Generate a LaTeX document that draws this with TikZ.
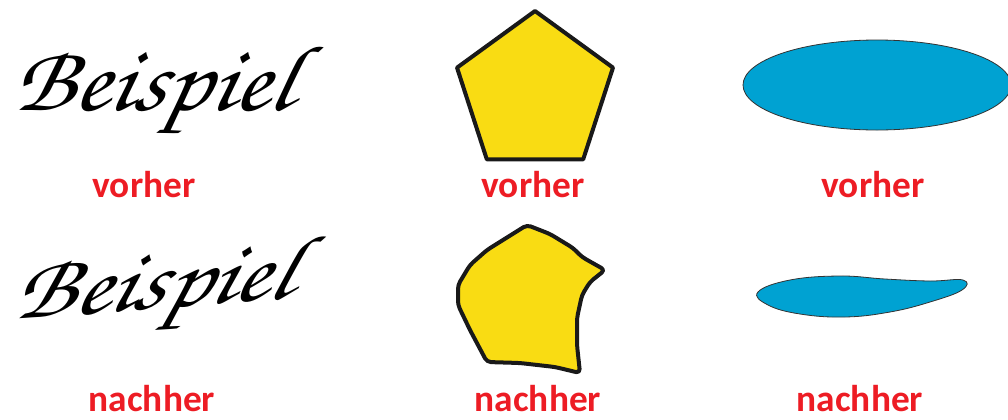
\documentclass[tikz,border=0pt]{standalone}
\usepackage{fontspec}
\setmainfont{Carlito}
\newfontfamily\chorus{texgyrechorus-mediumitalic.otf}
\usetikzlibrary{shapes.geometric, positioning}
\definecolor{lblred}{RGB}{237,28,36}
\definecolor{penyellow}{RGB}{249,220,19}
\definecolor{ellblue}{RGB}{0,162,210}
\begin{document}
\begin{tikzpicture}[
    x=0.75pt, y=-0.75pt,
    lbl/.style={font=\fontsize{28}{30}\selectfont\bfseries, text=lblred, anchor=base, inner sep=0pt},
    scr/.style={font=\chorus\fontsize{56}{56}\selectfont, inner sep=0pt, anchor=base west},
    pent/.style={draw=black!90, line width=3pt, fill=penyellow, line join=round},
    ell/.style={draw=black!80, line width=0.6pt, fill=ellblue}
]
\useasboundingbox (0,0) rectangle (1008,419);
\node[scr, xscale=1.36, yscale=1.25, xslant=0.2] (s1) at (10,110) {Beispiel};
\node[regular polygon, regular polygon sides=5, minimum size=123pt, inner sep=0pt, outer sep=0pt, pent] (p1) at (535,93) {};
\draw[ell] (877,85) ellipse [x radius=134, y radius=45];
\node[scr, xscale=1.32, yscale=1.2, xslant=0.35, rotate=5] (s2) at (10,320) {Beispiel};
\draw[pent, rounded corners=3pt] (527,225) -- (550,234) -- (573,248) -- (582,257) -- (605,270)
    -- (590,282) -- (582,295) -- (577,318) -- (577,345) -- (580,373)
    -- (555,367) -- (520,363) -- (487,362) -- (470,330) -- (458,305)
    -- (458,285) -- (470,265) -- (487,250) -- cycle;
\draw[ell] plot[smooth cycle, tension=0.7] coordinates {(758,292) (790,280) (840,276) (885,279) (930,281) (963,280) (962,290) (930,302) (890,312) (845,317) (800,314) (768,305)};
\node[lbl] (v1) at (144,197) {vorher};
\node[lbl] (v2) at (533,197) {vorher};
\node[lbl] (v3) at (873,197) {vorher};
\node[lbl] (n1) at (152,411) {nachher};
\node[lbl] (n2) at (538,411) {nachher};
\node[lbl] (n3) at (860,411) {nachher};
\end{tikzpicture}
\end{document}
